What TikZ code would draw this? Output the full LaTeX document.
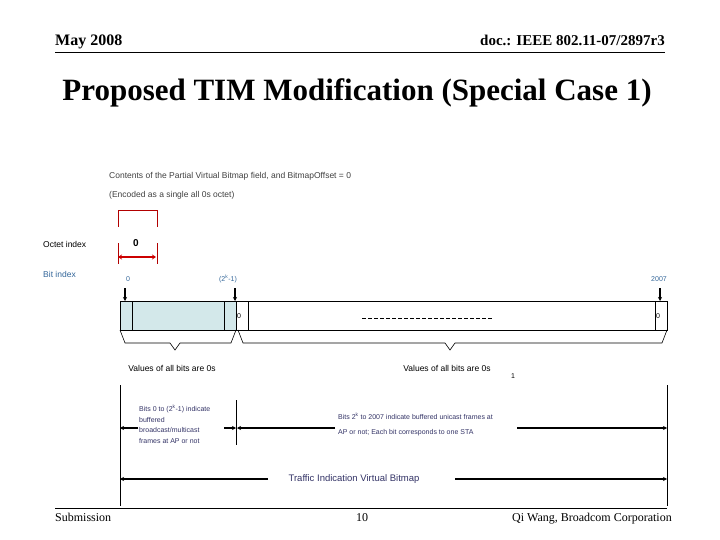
\documentclass[tikz,border=0pt]{standalone}
\usepackage{fontspec}
\setmainfont{Liberation Serif}
\newfontfamily\arial{Liberation Sans}
\usetikzlibrary{arrows.meta}
\definecolor{navy}{HTML}{333366}
\definecolor{bitblue}{HTML}{336699}
\definecolor{cellblue}{HTML}{D3E8EA}
\begin{document}
\begin{tikzpicture}[x=1pt,y=-1pt,
  sm/.style={font=\arial\fontsize{7}{9}\selectfont,inner sep=0pt},
  md/.style={font=\arial\fontsize{8.5}{10}\selectfont,inner sep=0pt},
  bx/.style={draw=black,line width=0.7pt},
  arr/.style={line width=1.3pt,-{Stealth[length=4pt,width=4pt]}}]
\useasboundingbox (0,0) rectangle (720,540);
% header
\node[anchor=base west,inner sep=0pt,font=\bfseries\fontsize{16}{18}\selectfont] (may) at (55,46) {May 2008};
\node[anchor=base east,inner sep=0pt,font=\bfseries\fontsize{15}{18}\selectfont] (doc) at (665,46) {doc.: IEEE 802.11-07/2897r3};
\draw[line width=0.6pt] (55,52) -- (665,52);
\node[inner sep=0pt,font=\bfseries\fontsize{31}{34}\selectfont] (title) at (357,93) {Proposed TIM Modification (Special Case 1)};
% captions
\node[md,anchor=west,text=black!75] (c1) at (109,176) {Contents of the Partial Virtual Bitmap field, and BitmapOffset = 0};
\node[md,anchor=west,text=black!75] (c2) at (109,195) {(Encoded as a single all 0s octet)};
% red octet
\draw[red!70!black,line width=0.7pt] (118,227) -- (118,210) -- (157,210) -- (157,227);
\draw[red!70!black,line width=0.7pt] (118,243) -- (118,264) (157,243) -- (157,264);
\coordinate (ra) at (118,257); \coordinate (rb) at (156,257);
\draw[red!80!black,line width=1.3pt,{Stealth[length=4pt,width=5pt]}-{Stealth[length=4pt,width=5pt]}] (ra) -- (rb);
\node[inner sep=0pt,font=\arial\bfseries\fontsize{10}{12}\selectfont] (oct0) at (136,243) {0};
\node[md,anchor=west] (octidx) at (43,244) {Octet index};
\node[md,anchor=west,text=bitblue] (bitidx) at (43,274) {Bit index};
% bit labels
\node[sm,text=bitblue] (b0) at (128,279) {0};
\node[sm,text=bitblue] (bk) at (228,279) {(2\textsuperscript{k}-1)};
\node[sm,text=bitblue] (b2007) at (659,279) {2007};
\coordinate (a1) at (125,288); \coordinate (a1e) at (125,301);
\coordinate (a2) at (235,288); \coordinate (a2e) at (235,301);
\coordinate (a3) at (660,288); \coordinate (a3e) at (660,301);
\draw[arr] (a1) -- (a1e); \draw[arr] (a2) -- (a2e); \draw[arr] (a3) -- (a3e);
% bitmap box
\fill[cellblue] (120,301) rectangle (236,330);
\draw[bx] (120,301) rectangle (667,330);
\draw[bx] (132,301) -- (132,330) (224,301) -- (224,330) (236,301) -- (236,330)
  (248,301) -- (248,330) (655,301) -- (655,330);
\node[sm] (z1) at (239,316) {0};
\node[sm] (z2) at (658,316) {0};
\draw[line width=0.7pt,dash pattern=on 4pt off 2pt] (362,318) -- (492,318);
% braces
\draw[line width=0.6pt] (120,330) -- (125,343) -- (170,343) -- (175,350) -- (180,343) -- (231,343) -- (236,330);
\draw[line width=0.6pt] (238,330) -- (243,343) -- (445,343) -- (450,350) -- (455,343) -- (662,343) -- (667,330);
\node[md] (v1) at (172,368) {Values of all bits are 0s};
\node[md] (v2) at (447,368) {Values of all bits are 0s};
\node[sm] (one) at (513,376) {1};
% span lines
\draw[line width=0.7pt] (120,385) -- (120,506) (667,385) -- (667,506) (236,400) -- (236,445);
\coordinate (l1) at (138,428); \coordinate (l0) at (120,428);
\coordinate (l2) at (224,428); \coordinate (l3) at (236,428);
\draw[arr] (l1) -- (l0); \draw[arr] (l2) -- (l3);
\coordinate (r1) at (335,428); \coordinate (r0) at (237,428);
\coordinate (r2) at (517,428); \coordinate (r3) at (667,428);
\draw[arr] (r1) -- (r0); \draw[arr] (r2) -- (r3);
\node[sm,anchor=north west,text=navy,align=left,font=\arial\fontsize{7}{10.5}\selectfont] (lt) at (139,405)
  {Bits 0 to (2\textsuperscript{k}-1) indicate\\buffered\\broadcast/multicast\\frames at AP or not};
\node[sm,anchor=west,text=navy] (rt1) at (338,416) {Bits 2\textsuperscript{k} to 2007 indicate buffered unicast frames at};
\node[sm,anchor=west,text=navy] (rt2) at (338,433) {AP or not; Each bit corresponds to one STA};
\coordinate (t1) at (268,479); \coordinate (t0) at (120,479);
\coordinate (t2) at (455,479); \coordinate (t3) at (667,479);
\draw[arr] (t1) -- (t0); \draw[arr] (t2) -- (t3);
\node[md,text=navy,font=\arial\fontsize{9.5}{11}\selectfont] (tivb) at (354,479) {Traffic Indication Virtual Bitmap};
% footer
\draw[line width=0.6pt] (55,508) -- (667,508);
\node[anchor=base west,inner sep=0pt,font=\fontsize{12}{14}\selectfont] (sub) at (55,521) {Submission};
\node[anchor=base,inner sep=0pt,font=\fontsize{12}{14}\selectfont] (pg) at (362,521) {10};
\node[anchor=base east,inner sep=0pt,font=\fontsize{12}{14}\selectfont] (auth) at (672,521) {Qi Wang, Broadcom Corporation};
\end{tikzpicture}
\end{document}
